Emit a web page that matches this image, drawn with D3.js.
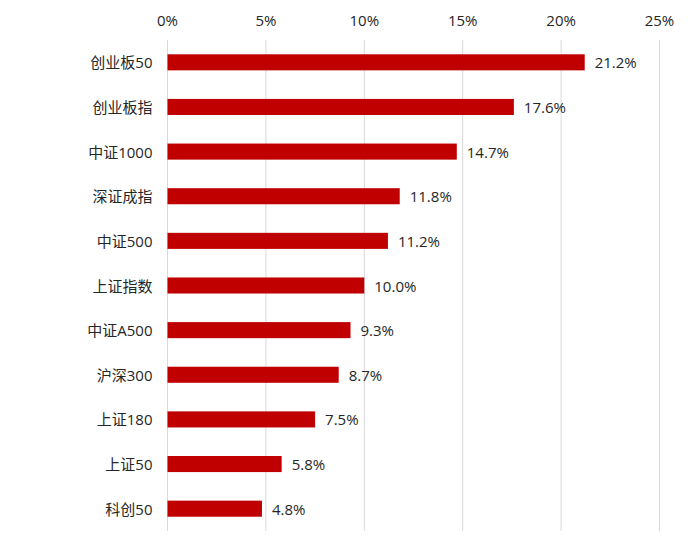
<!DOCTYPE html>
<head>
  <meta charset="utf-8" />
  <script src="https://d3js.org/d3.v7.min.js"></script>
  <style>
    body { margin: 0; background: #fff; }
    text { font-family: "Open Sans", "Noto Sans CJK SC", sans-serif; fill: #262626; }
  </style>
</head>
<body>
  <script>
    // data
    var categories = ["创业板50", "创业板指", "中证1000", "深证成指", "中证500", "上证指数",
                      "中证A500", "沪深300", "上证180", "上证50", "科创50"];
    var values = [21.2, 17.6, 14.7, 11.8, 11.2, 10.0, 9.3, 8.7, 7.5, 5.8, 4.8];
    var ticks = [0, 5, 10, 15, 20, 25];

    var width = 700, height = 551;
    var mLeft = 167.5, mRight = 659.5, mTop = 40, mBottom = 531;

    var svg = d3.select("body").append("svg")
      .attr("width", width)
      .attr("height", height);

    var x = d3.scaleLinear().domain([0, 25]).range([mLeft, mRight]);
    var y = d3.scaleBand().domain(categories).range([mTop, mBottom]).paddingInner(0.64).paddingOuter(0.32);

    // gridlines
    svg.append("g").selectAll("line")
      .data(ticks)
      .join("line")
      .attr("x1", d => x(d)).attr("x2", d => x(d))
      .attr("y1", mTop).attr("y2", mBottom)
      .attr("stroke", "#d9d9d9")
      .attr("stroke-width", 1);

    // top axis labels
    svg.append("g").selectAll("text")
      .data(ticks)
      .join("text")
      .attr("x", d => x(d))
      .attr("y", 20)
      .attr("text-anchor", "middle")
      .attr("dominant-baseline", "central")
      .style("font-size", "15px")
      .text(d => d + "%");

    var data = categories.map((c, i) => ({ name: c, value: values[i] }));

    // bars
    svg.append("g").selectAll("rect")
      .data(data)
      .join("rect")
      .attr("x", x(0))
      .attr("y", d => y(d.name))
      .attr("width", d => x(d.value) - x(0))
      .attr("height", y.bandwidth())
      .attr("fill", "#c00000");

    // category labels
    svg.append("g").selectAll("text")
      .data(data)
      .join("text")
      .attr("x", x(0) - 15)
      .attr("y", d => y(d.name) + y.bandwidth() / 2)
      .attr("text-anchor", "end")
      .attr("dominant-baseline", "central")
      .style("font-size", "15px")
      .text(d => d.name);

    // value labels
    svg.append("g").selectAll("text")
      .data(data)
      .join("text")
      .attr("x", d => x(d.value) + 10)
      .attr("y", d => y(d.name) + y.bandwidth() / 2)
      .attr("dominant-baseline", "central")
      .style("font-size", "15px")
      .text(d => d.value.toFixed(1) + "%");
  </script>
</body>
